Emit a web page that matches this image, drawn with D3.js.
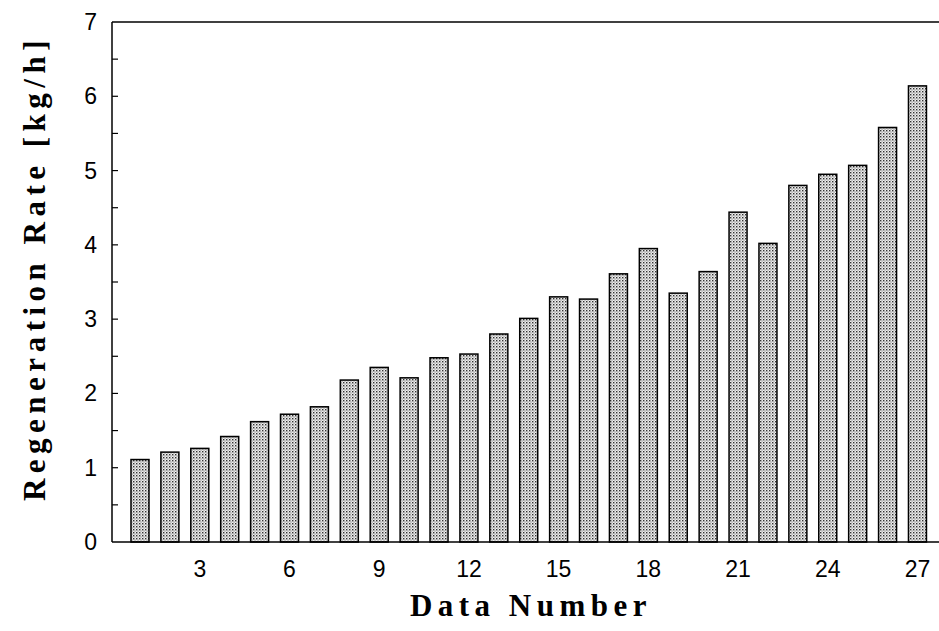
<!DOCTYPE html>
<html>
<head>
<meta charset="utf-8">
<script src="https://cdn.jsdelivr.net/npm/d3@7"></script>
<style>
  body { margin: 0; background: #fff; }
  svg { display: block; }
  .tick-label { font-family: "Liberation Sans", Arial, sans-serif; font-size: 23px; fill: #000; }
  .axis-title { font-family: "Liberation Serif", "Times New Roman", serif; font-weight: bold; font-size: 31px; fill: #000; letter-spacing: 5.5px; }
</style>
</head>
<body>
<svg id="chart"></svg>
<script>
const dataNumbers = d3.range(1, 28);
const regenRates = [1.11, 1.21, 1.26, 1.42, 1.62, 1.72, 1.82, 2.18, 2.35, 2.21,
                    2.48, 2.53, 2.80, 3.01, 3.30, 3.27, 3.61, 3.95, 3.35, 3.64,
                    4.44, 4.02, 4.80, 4.95, 5.07, 5.58, 6.14];
const xTickValues = [3, 6, 9, 12, 15, 18, 21, 24, 27];
const yTickValues = [0, 1, 2, 3, 4, 5, 6, 7];

const W = 939, H = 631;
const margin = { top: 22, right: 0, bottom: 89, left: 112 };
const width = W - margin.left - margin.right;
const height = H - margin.top - margin.bottom;

const svg = d3.select("#chart")
    .attr("width", W)
    .attr("height", H);

// dotted fill like the scanned halftone
const defs = svg.append("defs");
const pat = defs.append("pattern")
    .attr("id", "dots")
    .attr("patternUnits", "userSpaceOnUse")
    .attr("width", 3)
    .attr("height", 3);
pat.append("rect").attr("width", 3).attr("height", 3).attr("fill", "#eeeeee");
pat.append("rect").attr("x", 0).attr("y", 0).attr("width", 1.4).attr("height", 1.4).attr("fill", "#333");
pat.append("rect").attr("x", 1.5).attr("y", 1.5).attr("width", 1.1).attr("height", 1.1).attr("fill", "#777");

const g = svg.append("g")
    .attr("transform", "translate(" + margin.left + "," + margin.top + ")");

// bar 1 sits ~28px right of the axis, 29.9px per data number
const xScale = d3.scaleLinear()
    .domain([0.064, 27.72])
    .range([0, width]);
const yScale = d3.scaleLinear()
    .domain([0, 7])
    .range([height, 0]);

const barW = 18;

g.selectAll(".bar")
    .data(dataNumbers)
    .enter().append("rect")
    .attr("class", "bar")
    .attr("x", d => xScale(d) - barW / 2)
    .attr("y", (d, i) => yScale(regenRates[i]))
    .attr("width", barW)
    .attr("height", (d, i) => height - yScale(regenRates[i]))
    .attr("fill", "url(#dots)")
    .attr("stroke", "#000")
    .attr("stroke-width", 1.5);

// frame: left axis, bottom axis, top line
g.append("line")
    .attr("x1", 0).attr("x2", 0)
    .attr("y1", 0).attr("y2", height)
    .attr("stroke", "#000").attr("stroke-width", 1.5);
g.append("line")
    .attr("x1", 0).attr("x2", width)
    .attr("y1", height).attr("y2", height)
    .attr("stroke", "#000").attr("stroke-width", 1.5);
g.append("line")
    .attr("x1", 0).attr("x2", width)
    .attr("y1", 0).attr("y2", 0)
    .attr("stroke", "#000").attr("stroke-width", 1.5);

// y ticks inside, every 0.5
g.selectAll(".ytick")
    .data(d3.range(0.5, 7, 0.5))
    .enter().append("line")
    .attr("class", "ytick")
    .attr("x1", 0).attr("x2", 6)
    .attr("y1", d => yScale(d)).attr("y2", d => yScale(d))
    .attr("stroke", "#000").attr("stroke-width", 1.2);

g.selectAll(".ylabel")
    .data(yTickValues)
    .enter().append("text")
    .attr("class", "tick-label")
    .attr("text-anchor", "end")
    .attr("x", -15)
    .attr("y", d => yScale(d) + 8)
    .text(d => d);

g.selectAll(".xlabel")
    .data(xTickValues)
    .enter().append("text")
    .attr("class", "tick-label")
    .attr("text-anchor", "middle")
    .attr("x", d => xScale(d))
    .attr("y", height + 35)
    .text(d => d);

svg.append("text")
    .attr("class", "axis-title")
    .attr("text-anchor", "middle")
    .attr("x", 531)
    .attr("y", 616)
    .text("Data Number");

svg.append("text")
    .attr("class", "axis-title")
    .attr("text-anchor", "middle")
    .attr("transform", "translate(45, 268) rotate(-90)")
    .text("Regeneration Rate [kg/h]");
</script>
</body>
</html>
